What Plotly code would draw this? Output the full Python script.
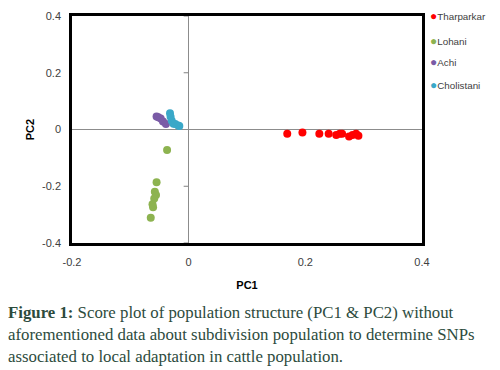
import plotly.graph_objects as go

# ---- data ----
tharparkar_x = [0.169, 0.195, 0.224, 0.240, 0.253, 0.259, 0.263, 0.275, 0.281, 0.287, 0.291]
tharparkar_y = [-0.015, -0.011, -0.015, -0.015, -0.019, -0.015, -0.015, -0.025, -0.019, -0.015, -0.022]
lohani_x = [-0.037, -0.055, -0.058, -0.056, -0.059, -0.062, -0.061, -0.065]
lohani_y = [-0.072, -0.186, -0.219, -0.231, -0.243, -0.263, -0.274, -0.311]
achi_x = [-0.055, -0.052, -0.048, -0.044, -0.039]
achi_y = [0.046, 0.043, 0.039, 0.028, 0.019]
cholistani_x = [-0.032, -0.031, -0.029, -0.026, -0.023, -0.018, -0.016]
cholistani_y = [0.057, 0.045, 0.031, 0.020, 0.019, 0.014, 0.012]

x_ticks = [-0.2, 0, 0.2, 0.4]
x_tick_text = ["-0.2", "0", "0.2", "0.4"]
y_ticks = [-0.4, -0.2, 0, 0.2, 0.4]
y_tick_text = ["-0.4", "-0.2", "0", "0.2", "0.4"]

series_names = ["Tharparkar", "Lohani", "Achi", "Cholistani"]
series_colors = ["#ff0000", "#8db350", "#7a5ba6", "#3aa8c8"]
series_x = [tharparkar_x, lohani_x, achi_x, cholistani_x]
series_y = [tharparkar_y, lohani_y, achi_y, cholistani_y]
legend_y = [1.002, 0.888, 0.797, 0.696]   # legend entry positions (paper)

fig = go.Figure()
for name, xs, ys, col in zip(series_names, series_x, series_y, series_colors):
    fig.add_trace(go.Scatter(x=xs, y=ys, mode="markers", name=name, showlegend=False,
                             marker=dict(color=col, size=8, line=dict(width=0))))

# legend drawn as text annotations (compact, like the reference)
for name, col, ly in zip(series_names, series_colors, legend_y):
    fig.add_annotation(text=f"<span style='color:{col};font-size:12px'>●</span>{name}",
                       xref="paper", yref="paper", x=1.018, y=ly,
                       xanchor="left", yanchor="middle", showarrow=False,
                       font=dict(family="Liberation Sans Narrow, Liberation Sans, Arial",
                                 size=9.8, color="#404040"))

# small tick marks on the vertical zero line
for yv in y_ticks:
    if yv == 0:
        continue
    fig.add_shape(type="line", xref="x", yref="y", xsizemode="pixel", xanchor=0,
                  x0=-5, x1=0, y0=yv, y1=yv, line=dict(color="#808080", width=1), layer="below")

fig.update_xaxes(range=[-0.2, 0.4], tickvals=x_ticks, ticktext=x_tick_text,
                 showgrid=False, zeroline=True, zerolinecolor="#8c8c8c", zerolinewidth=1,
                 showline=True, mirror=True, linecolor="black", linewidth=2.5,
                 ticks="", ticklabelstandoff=7,
                 tickfont=dict(family="Liberation Sans, Arial", size=11, color="#404040"),
                 title=dict(text="<b>PC1</b>", standoff=15,
                            font=dict(family="Liberation Sans, Arial", size=11, color="black")))
fig.update_yaxes(range=[-0.4, 0.4], tickvals=y_ticks, ticktext=y_tick_text,
                 showgrid=False, zeroline=True, zerolinecolor="#8c8c8c", zerolinewidth=1,
                 showline=True, mirror=True, linecolor="black", linewidth=2.5,
                 ticks="", ticklabelstandoff=6,
                 tickfont=dict(family="Liberation Sans, Arial", size=11, color="#404040"),
                 title=dict(text="<b>PC2</b>", standoff=6,
                            font=dict(family="Liberation Sans, Arial", size=11, color="black")))

caption = ("<b>Figure 1:</b> Score plot of population structure (PC1 &amp; PC2) without<br>"
           "aforementioned data about subdivision population to determine SNPs<br>"
           "associated to local adaptation in cattle population.")
fig.add_annotation(text=caption, xref="paper", yref="paper", x=-66/350, y=(243-301)/227,
                   xanchor="left", yanchor="top", align="left", showarrow=False,
                   font=dict(family="Liberation Serif, Times New Roman, serif", size=16.8, color="#2d4b3d"))

# page body has an 8px margin, so the figure is 492x362 with its origin at (8, 8)
fig.update_layout(
    width=492, height=362,
    margin=dict(l=64, r=78, t=8, b=127, autoexpand=False),
    paper_bgcolor="white", plot_bgcolor="white",
    showlegend=False,
)

fig.write_html("out.html")
